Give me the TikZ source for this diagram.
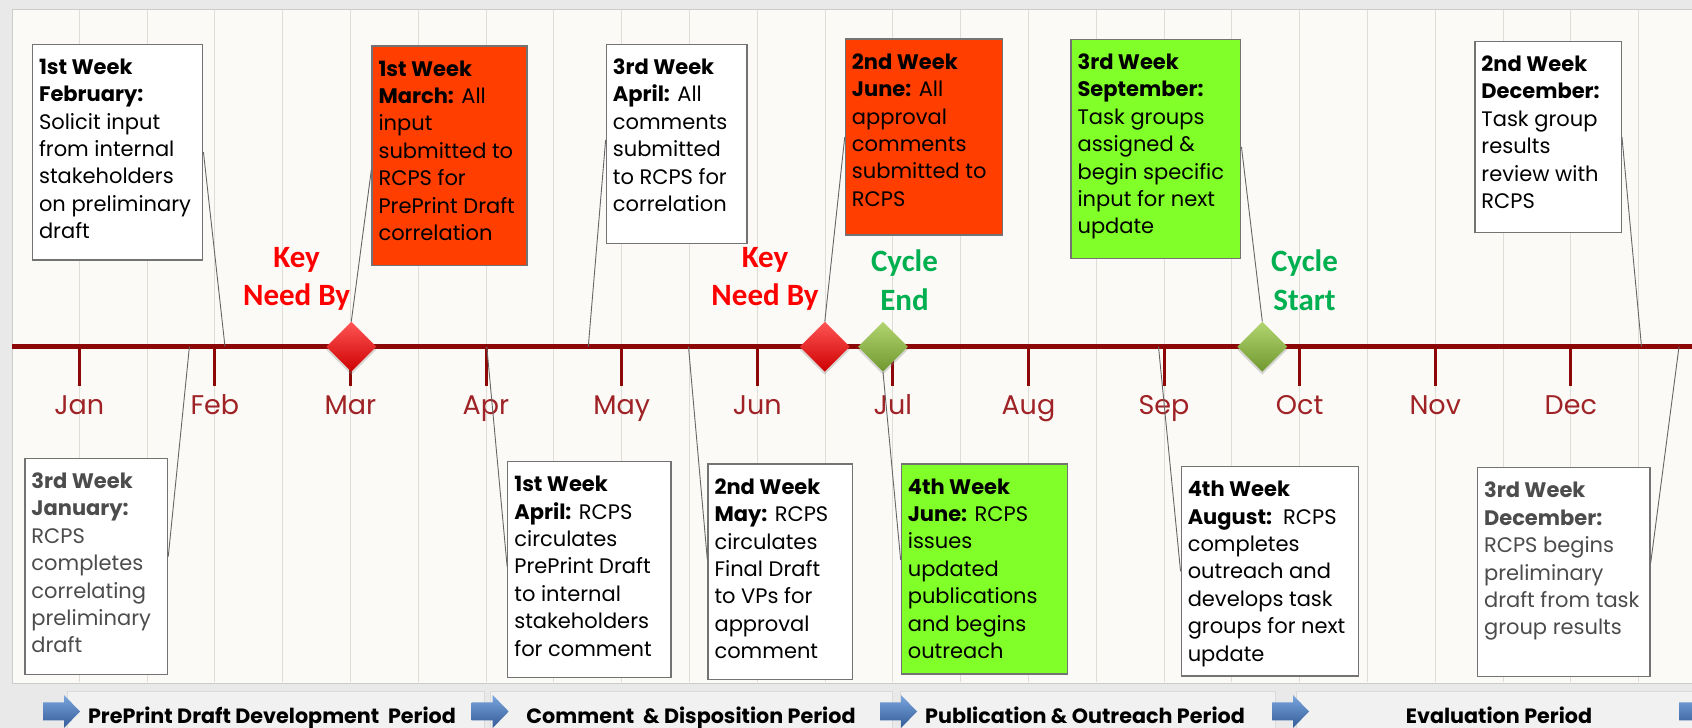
\documentclass[tikz,border=0pt]{standalone}
\usepackage{fontspec}
\newfontfamily\gothic{Poppins}
\newfontfamily\calib{Carlito}
\usetikzlibrary{shapes.geometric,shadows}

\definecolor{bggrey}{RGB}{233,233,233}
\definecolor{tabgrey}{RGB}{241,241,241}
\definecolor{panelc}{RGB}{252,250,246}
\definecolor{gridc}{RGB}{224,220,214}
\definecolor{tlinec}{RGB}{140,8,8}
\definecolor{monthc}{RGB}{158,34,38}
\definecolor{hotred}{RGB}{255,62,0}
\definecolor{limec}{RGB}{128,255,40}
\definecolor{cyclegreen}{RGB}{0,176,80}
\definecolor{redtop}{RGB}{255,85,85}
\definecolor{redbot}{RGB}{205,0,0}
\definecolor{greentop}{RGB}{178,212,112}
\definecolor{greenbot}{RGB}{112,152,48}
\definecolor{bluetop}{RGB}{122,166,222}
\definecolor{bluebot}{RGB}{52,92,152}

\tikzset{
  evt/.style={draw=black!55, line width=1.3pt, fill=white, inner sep=0pt},
  evttext/.style={anchor=north west, align=left, inner xsep=7pt, inner ysep=15pt,
    font=\gothic\fontsize{21}{27.4}\selectfont},
  conn/.style={draw=black!60, line width=0.9pt},
  keyd/.style={diamond, minimum width=50pt, minimum height=50pt, inner sep=0pt,
    drop shadow={shadow xshift=0pt, shadow yshift=-3pt, opacity=0.3}},
  keylabel/.style={align=center, font=\calib\bfseries\fontsize{31}{38.5}\selectfont},
  month/.style={anchor=base, text=monthc, font=\gothic\fontsize{27}{30}\selectfont},
  period/.style={anchor=base, font=\gothic\bfseries\fontsize{20.7}{24}\selectfont}
}

\begin{document}
\begin{tikzpicture}[x=1pt,y=1pt]
\useasboundingbox (0,0) rectangle (1692,728);
\fill[bggrey] (0,0) rectangle (1692,728);

% panel with grid
\draw[black!20, fill=panelc] (12,44.7) rectangle (1710,718.7);
\foreach \k in {0,...,23}
  \draw[gridc, line width=1pt] (79.2+67.8*\k,45.5) -- (79.2+67.8*\k,718);

% period strip
\draw[black!15, fill=tabgrey] (66.7,-5) rectangle (483.8,36.3);
\draw[black!15, fill=tabgrey] (490,-5) rectangle (892,36.3);
\draw[black!15, fill=tabgrey] (899.8,-5) rectangle (1274.8,36.3);
\draw[black!15, fill=tabgrey] (1296.5,-5) rectangle (1710,36.3);
\foreach \ax in {43,471.7,880,1272,1679}
  \shade[top color=bluetop, bottom color=bluebot]
    (\ax,7.5) -- ++(21,0) -- ++(0,-7.5) -- ++(16,16.5) -- ++(-16,16.5) -- ++(0,-7.5) -- ++(-21,0) -- cycle;
\node[period] (p1) at (272,4.2) {PrePrint Draft Development\ \ Period};
\node[period] (p2) at (691,4.2) {Comment\ \ \& Disposition Period};
\node[period] (p3) at (1085,4.2) {Publication \& Outreach Period};
\node[period] (p4) at (1499,4.2) {Evaluation Period};

% timeline
\draw[tlinec, line width=4.5pt] (12,381.3) -- (1692,381.3);
\foreach \m [count=\i from 0] in {Jan,Feb,Mar,Apr,May,Jun,Jul,Aug,Sep,Oct,Nov,Dec} {
  \draw[tlinec, line width=3pt] (79.2+135.6*\i,381.3) -- (79.2+135.6*\i,342);
  \node[month] (m\i) at (79.2+135.6*\i,313) {\m};
}

\coordinate (tjan3) at (189.4,381.3);
\coordinate (tfeb1) at (225,381.3);
\coordinate (tapr1) at (486.8,381.3);
\coordinate (tapr3) at (588.3,381.3);
\coordinate (tmay2) at (688.5,381.3);
\coordinate (taug4) at (1158.5,381.3);
\coordinate (tdec2) at (1641.5,381.3);
\coordinate (tdec3) at (1679,381.3);

\node[keyd, top color=redtop, bottom color=redbot] (dmar) at (351.3,381.3) {};
\node[keyd, top color=redtop, bottom color=redbot] (djun) at (824.8,381.3) {};
\node[keyd, top color=greentop, bottom color=greenbot] (djul) at (883,381.3) {};
\node[keyd, top color=greentop, bottom color=greenbot] (dsep) at (1262.3,381.3) {};

\node[keylabel, text=red] (key1) at (296.6,449) {Key\\Need By};
\node[keylabel, text=red] (key2) at (765,449) {Key\\Need By};
\node[keylabel, text=cyclegreen] (cend) at (904.5,448) {Cycle\\End};
\node[keylabel, text=cyclegreen] (cstart) at (1304.5,448) {Cycle\\Start};

% top boxes
\node[evt, minimum width=170.3, minimum height=215.7] (feb1) at (117.65,575.85) {};
\node[evttext] (feb1t) at (feb1.north west) {\textbf{1st Week}\\\textbf{February:}\\Solicit input\\from internal\\stakeholders\\on preliminary\\draft};
\node[evt, fill=hotred, minimum width=155, minimum height=219.7] (mar1) at (449.5,572.15) {};
\node[evttext] (mar1t) at (mar1.north west) {\textbf{1st Week}\\\textbf{March:} All\\input\\submitted to\\RCPS for\\PrePrint Draft\\correlation};
\node[evt, minimum width=140.7, minimum height=199] (apr3) at (676.65,584.2) {};
\node[evttext] (apr3t) at (apr3.north west) {\textbf{3rd Week}\\\textbf{April:} All\\comments\\submitted\\to RCPS for\\correlation};
\node[evt, fill=hotred, minimum width=156.9, minimum height=196] (jun2) at (923.85,591) {};
\node[evttext] (jun2t) at (jun2.north west) {\textbf{2nd Week}\\\textbf{June:} All\\approval\\comments\\submitted to\\RCPS};
\node[evt, fill=limec, minimum width=169.8, minimum height=219] (sep3) at (1155.9,579.2) {};
\node[evttext] (sep3t) at (sep3.north west) {\textbf{3rd Week}\\\textbf{September:}\\Task groups\\assigned \&\\begin specific\\input for next\\update};
\node[evt, minimum width=146.4, minimum height=191.4] (dec2) at (1548.1,591) {};
\node[evttext] (dec2t) at (dec2.north west) {\textbf{2nd Week}\\\textbf{December:}\\Task group\\results\\review with\\RCPS};

% bottom boxes
\node[evt, minimum width=142.7, minimum height=216] (jan3) at (96.25,161.7) {};
\node[evttext, text=black!70] (jan3t) at (jan3.north west) {\textbf{3rd Week}\\\textbf{January:}\\RCPS\\completes\\correlating\\preliminary\\draft};
\node[evt, minimum width=163.2, minimum height=216] (apr1) at (589.4,158.3) {};
\node[evttext] (apr1t) at (apr1.north west) {\textbf{1st Week}\\\textbf{April:} RCPS\\circulates\\PrePrint Draft\\to internal\\stakeholders\\for comment};
\node[evt, minimum width=144.3, minimum height=215.3] (may2) at (780.15,156.35) {};
\node[evttext] (may2t) at (may2.north west) {\textbf{2nd Week}\\\textbf{May:} RCPS\\circulates\\Final Draft\\to VPs for\\approval\\comment};
\node[evt, fill=limec, minimum width=166.5, minimum height=210] (jun4) at (984.55,159) {};
\node[evttext] (jun4t) at (jun4.north west) {\textbf{4th Week}\\\textbf{June:} RCPS\\issues\\updated\\publications\\and begins\\outreach};
\node[evt, minimum width=177.4, minimum height=209.3] (aug4) at (1269.9,156.65) {};
\node[evttext] (aug4t) at (aug4.north west) {\textbf{4th Week}\\\textbf{August:}\ \ RCPS\\completes\\outreach and\\develops task\\groups for next\\update};
\node[evt, minimum width=172.5, minimum height=209] (dec3) at (1563.75,155.8) {};
\node[evttext, text=black!70] (dec3t) at (dec3.north west) {\textbf{3rd Week}\\\textbf{December:}\\RCPS begins\\preliminary\\draft from task\\group results};

% connectors
\draw[conn] (feb1.east) -- (tfeb1);
\draw[conn] (mar1.west) ++(0,-14) -- (dmar.north);
\draw[conn] (apr3.west) ++(0,4) -- (tapr3);
\draw[conn] (jun2.west) -- (djun.north);
\draw[conn] (sep3.east) ++(0,2) -- (dsep.north);
\draw[conn] (dec2.east) -- (tdec2);
\draw[conn] (jan3.east) ++(0,9.6) -- (tjan3);
\draw[conn] (apr1.west) ++(0,3) -- (tapr1);
\draw[conn] (may2.west) ++(0,11.7) -- (tmay2);
\draw[conn] (jun4.west) ++(0,9) -- (djul.south);
\draw[conn] (aug4.west) -- (taug4);
\draw[conn] (dec3.east) ++(0,9) -- (tdec3);
\end{tikzpicture}
\end{document}
